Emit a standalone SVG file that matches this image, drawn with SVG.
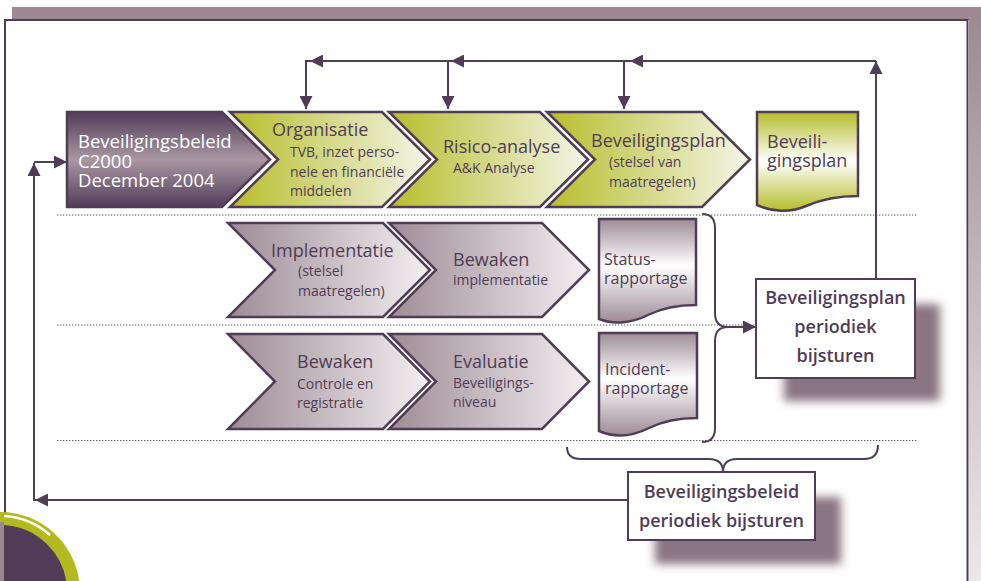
<svg xmlns="http://www.w3.org/2000/svg" width="981" height="581" viewBox="0 0 981 581">
<style>
text{font-family:"Open Sans","Liberation Sans",sans-serif;fill:#4f3d55}
.h{font-size:18px}
.s{font-size:14px}
.d{font-size:16px}
.w{fill:#fff;font-size:18.5px}
.b{font-size:18px;font-weight:600;text-anchor:middle}
.ol{stroke:#4f3d55;stroke-width:2.5;stroke-linejoin:miter}
.cn{fill:none;stroke:#4f3d55;stroke-width:2}
.dot{stroke:#5e4c63;stroke-width:1.2;stroke-dasharray:1.3 1.7;fill:none}
</style>
<defs>
<linearGradient id="gGreen" x1="0" y1="0" x2="1" y2="0"><stop offset="0" stop-color="#b7bd2c"/><stop offset="1" stop-color="#f4f5e8"/></linearGradient>
<linearGradient id="gMauve" x1="0" y1="0" x2="1" y2="0"><stop offset="0" stop-color="#9e8b96"/><stop offset="1" stop-color="#f3eff1"/></linearGradient>
<linearGradient id="gDark" x1="0" y1="0" x2="0" y2="1"><stop offset="0" stop-color="#513d58"/><stop offset="0.5" stop-color="#a997a3"/><stop offset="1" stop-color="#513d58"/></linearGradient>
<linearGradient id="gDocG" x1="0" y1="0" x2="0" y2="1"><stop offset="0" stop-color="#b5bc2a"/><stop offset="0.5" stop-color="#ffffff"/><stop offset="1" stop-color="#b5bc2a"/></linearGradient>
<linearGradient id="gDocM" x1="0" y1="0" x2="0" y2="1"><stop offset="0" stop-color="#9e8b96"/><stop offset="0.45" stop-color="#ffffff"/><stop offset="1" stop-color="#9e8b96"/></linearGradient>
<linearGradient id="gBar" x1="0" y1="0" x2="0" y2="1"><stop offset="0" stop-color="#9b8890"/><stop offset="0.5" stop-color="#c6b9c0"/><stop offset="1" stop-color="#ece8ea"/></linearGradient>
<marker id="ah" markerUnits="userSpaceOnUse" markerWidth="13" markerHeight="13" refX="13" refY="6.5" orient="auto"><path d="M0 0L13 6.5L0 13z" fill="#4f3d55"/></marker>
<filter id="blur" x="-30%" y="-30%" width="160%" height="160%"><feGaussianBlur stdDeviation="5"/></filter>
</defs>

<g id="frame">
<rect x="12" y="7" width="969" height="13" fill="#9b8890"/>
<rect x="969" y="7" width="12" height="574" fill="url(#gBar)"/>
<path d="M5 513V20H967.5V581" fill="none" stroke="#4f3d55" stroke-width="2"/>
<circle cx="0" cy="592" r="73.5" fill="#513d58" stroke="#b3ba1f" stroke-width="13"/>
<rect x="0" y="522" width="4" height="59" fill="#9b8890"/>
<path d="M4 516A76 76 0 0 1 50 535" fill="none" stroke="#fff" stroke-width="2.5"/>
</g>

<g id="dividers">
<path class="dot" d="M57 215H917M57 325H917M57 440.5H917"/>
</g>

<g id="shadows" filter="url(#blur)" fill="#8a7582">
<rect x="784" y="304" width="156" height="97"/>
<rect x="655" y="497" width="186" height="67"/>
</g>

<g id="connectors">
<path class="cn" d="M876 278V61" marker-end="url(#ah)"/>
<path class="cn" d="M876 61H630" marker-end="url(#ah)"/>
<path class="cn" d="M630 61H451" marker-end="url(#ah)"/>
<path class="cn" d="M451 61H310" marker-end="url(#ah)"/>
<path class="cn" d="M310 61H306V109" marker-end="url(#ah)"/>
<path class="cn" d="M448 61V109" marker-end="url(#ah)"/>
<path class="cn" d="M624 61V109" marker-end="url(#ah)"/>
<path class="cn" d="M628 500H35" marker-end="url(#ah)"/>
<path class="cn" d="M34 501V163" marker-end="url(#ah)"/>
<path class="cn" d="M34 162H67" marker-end="url(#ah)"/>
<path class="cn" d="M702 214Q715 214 715 228V313Q715 327 728 327Q715 327 715 341V428Q715 442 702 442"/>
<path class="cn" d="M727 327H756" marker-end="url(#ah)"/>
<path class="cn" d="M567 447Q567 459 581 459H709Q723 459 723 472Q723 459 737 459H864Q878 459 878 445"/>
</g>

<g id="beleid-c2000">
<polygon class="ol" points="67,112 222,112 270,159.5 222,207 67,207" fill="url(#gDark)"/>
<text class="w"><tspan x="78" y="148">Beveiligingsbeleid</tspan><tspan x="78" y="167.5">C2000</tspan><tspan x="78" y="187">December 2004</tspan></text>
</g>

<g id="organisatie">
<polygon class="ol" points="230,112 382,112 430,159.5 382,207 230,207 278,159.5" fill="url(#gGreen)"/>
<text class="h" x="272" y="136">Organisatie</text>
<text class="s"><tspan x="290" y="157">TVB, inzet perso-</tspan><tspan x="290" y="177">nele en financiële</tspan><tspan x="290" y="196">middelen</tspan></text>
</g>

<g id="risico">
<polygon class="ol" points="389,112 540,112 588,159.5 540,207 389,207 437,159.5" fill="url(#gGreen)"/>
<text class="h" x="443" y="153">Risico-analyse</text>
<text class="s" x="453" y="173">A&amp;K Analyse</text>
</g>

<g id="plan-chevron">
<polygon class="ol" points="547,112 702,112 750,159.5 702,207 547,207 595,159.5" fill="url(#gGreen)"/>
<text class="h" x="591" y="147">Beveiligingsplan</text>
<text class="s"><tspan x="609" y="167">(stelsel van</tspan><tspan x="609" y="187">maatregelen)</tspan></text>
</g>

<g id="plan-doc">
<path class="ol" d="M757 112H858V196C838 196 822 199 806 206C790 213 772 212 757 205Z" fill="url(#gDocG)"/>
<text class="h"><tspan x="767" y="148">Beveili-</tspan><tspan x="767" y="166.5">gingsplan</tspan></text>
</g>

<g id="implementatie">
<polygon class="ol" points="228,223 383,223 430,270 383,317 228,317 275,270" fill="url(#gMauve)"/>
<text class="h" x="271" y="257">Implementatie</text>
<text class="s"><tspan x="298" y="276">(stelsel</tspan><tspan x="298" y="296">maatregelen)</tspan></text>
</g>

<g id="bewaken-impl">
<polygon class="ol" points="389,223 542,223 589,270 542,317 389,317 436,270" fill="url(#gMauve)"/>
<text class="h" x="453" y="266">Bewaken</text>
<text class="s" x="453" y="285">implementatie</text>
</g>

<g id="status">
<path class="ol" d="M599 219H696V305C676 305 662 308 648 315C632 323 614 325 599 319Z" fill="url(#gDocM)"/>
<text class="d"><tspan x="604" y="265">Status-</tspan><tspan x="604" y="284">rapportage</tspan></text>
</g>

<g id="bewaken-controle">
<polygon class="ol" points="228,334 383,334 430,381.5 383,429 228,429 275,381.5" fill="url(#gMauve)"/>
<text class="h" x="297" y="368">Bewaken</text>
<text class="s"><tspan x="297" y="389">Controle en</tspan><tspan x="297" y="408">registratie</tspan></text>
</g>

<g id="evaluatie">
<polygon class="ol" points="389,334 542,334 589,381.5 542,429 389,429 436,381.5" fill="url(#gMauve)"/>
<text class="h" x="453" y="368">Evaluatie</text>
<text class="s"><tspan x="453" y="388">Beveiligings-</tspan><tspan x="453" y="407">niveau</tspan></text>
</g>

<g id="incident">
<path class="ol" d="M599 333H697V418C677 418 663 421 649 428C633 436 615 438 599 431Z" fill="url(#gDocM)"/>
<text class="d"><tspan x="605" y="375">Incident-</tspan><tspan x="605" y="394">rapportage</tspan></text>
</g>

<g id="plan-bijsturen">
<rect x="756" y="279" width="159" height="99" fill="#fff" stroke="#4f3d55" stroke-width="2"/>
<text class="b"><tspan x="835.5" y="304">Beveiligingsplan</tspan><tspan x="835.5" y="333">periodiek</tspan><tspan x="835.5" y="362">bijsturen</tspan></text>
</g>

<g id="beleid-bijsturen">
<rect x="628" y="472" width="187" height="68" fill="#fff" stroke="#4f3d55" stroke-width="2"/>
<text class="b"><tspan x="721.5" y="498">Beveiligingsbeleid</tspan><tspan x="721.5" y="527">periodiek bijsturen</tspan></text>
</g>
</svg>
